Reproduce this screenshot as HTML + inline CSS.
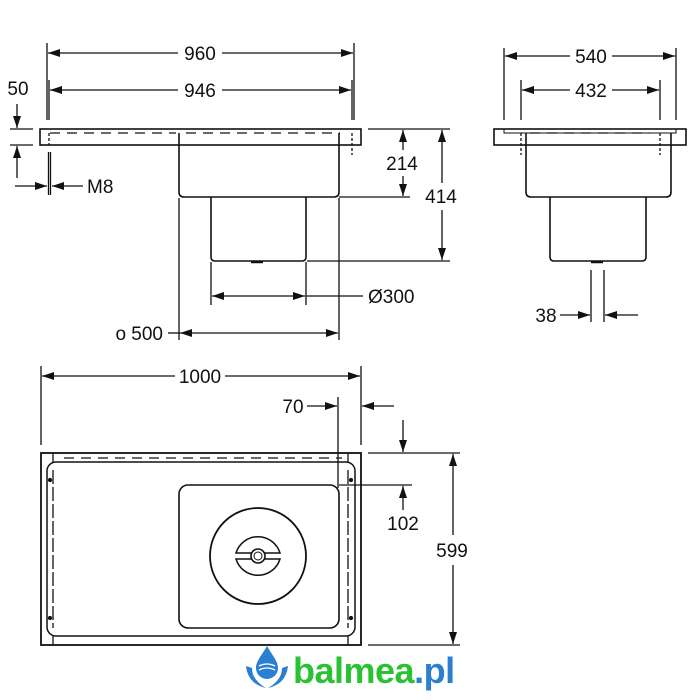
<!DOCTYPE html>
<html><head><meta charset="utf-8"><style>
html,body{margin:0;padding:0;background:#fff;}
svg{display:block;}
text{font-family:"Liberation Sans",Arial,sans-serif;font-size:19px;fill:#111;}
</style></head><body>
<svg width="700" height="700" viewBox="0 0 700 700" xmlns="http://www.w3.org/2000/svg">
<defs>
<marker id="a" viewBox="0 0 12 8" refX="12" refY="4" markerWidth="12" markerHeight="8" markerUnits="userSpaceOnUse" orient="auto-start-reverse"><path d="M0,0 L12,4 L0,8 z" fill="#111"/></marker>
</defs>
<g stroke="#111" stroke-width="1.3" fill="none">
<!-- ===== Front view ===== -->
<line x1="47" y1="43" x2="47" y2="120"/><line x1="354" y1="43" x2="354" y2="120"/>
<line x1="49" y1="80" x2="49" y2="120"/><line x1="352" y1="80" x2="352" y2="120"/>
<line x1="48" y1="53" x2="178" y2="53" marker-start="url(#a)"/><line x1="222" y1="53" x2="353" y2="53" marker-end="url(#a)"/>
<line x1="50" y1="90" x2="178" y2="90" marker-start="url(#a)"/><line x1="222" y1="90" x2="351" y2="90" marker-end="url(#a)"/>
<rect x="40" y="129" width="321" height="16" stroke-width="1.6"/>
<line x1="50" y1="133" x2="176" y2="133" stroke-dasharray="10,7"/>
<line x1="186" y1="133" x2="340" y2="133" stroke-dasharray="10,7"/>
<path d="M179,133 V192 Q179,197 184,197 H334 Q339,197 339,192 V133" stroke-width="1.6"/>
<path d="M211,197 V257 Q211,261 215,261 H302 Q306,261 306,257 V197" stroke-width="1.6"/>
<line x1="251" y1="262" x2="263" y2="262" stroke-width="2.5"/>
<line x1="49" y1="133" x2="49" y2="145" stroke-dasharray="3,2"/>
<line x1="352" y1="133" x2="352" y2="155" stroke-dasharray="3,2"/>
<line x1="48.5" y1="152" x2="48.5" y2="195"/><line x1="50.5" y1="152" x2="50.5" y2="195"/>
<!-- 50 -->
<line x1="10" y1="129" x2="33" y2="129"/><line x1="10" y1="145" x2="33" y2="145"/>
<line x1="17" y1="104" x2="17" y2="128" marker-end="url(#a)"/>
<line x1="17" y1="178" x2="17" y2="146" marker-end="url(#a)"/>
<!-- M8 -->
<line x1="15" y1="186" x2="47" y2="186" marker-end="url(#a)"/>
<line x1="83" y1="186" x2="52" y2="186" marker-end="url(#a)"/>
<!-- 214 / 414 -->
<line x1="368" y1="129" x2="450" y2="129"/>
<line x1="339" y1="197" x2="410" y2="197"/>
<line x1="307" y1="261" x2="450" y2="261"/>
<line x1="403" y1="130" x2="403" y2="150" marker-start="url(#a)"/><line x1="403" y1="176" x2="403" y2="196" marker-end="url(#a)"/>
<line x1="442" y1="130" x2="442" y2="183" marker-start="url(#a)"/><line x1="442" y1="210" x2="442" y2="260" marker-end="url(#a)"/>
<!-- Ø300 / 500 -->
<line x1="211" y1="262" x2="211" y2="305"/><line x1="306" y1="262" x2="306" y2="305"/>
<line x1="179" y1="198" x2="179" y2="340"/><line x1="339" y1="198" x2="339" y2="340"/>
<line x1="212" y1="296" x2="305" y2="296" marker-start="url(#a)" marker-end="url(#a)"/>
<line x1="306" y1="296" x2="363" y2="296"/>
<line x1="168" y1="333" x2="180" y2="333"/>
<line x1="180" y1="333" x2="338" y2="333" marker-start="url(#a)" marker-end="url(#a)"/>

<!-- ===== Side view ===== -->
<line x1="504" y1="48" x2="504" y2="120"/><line x1="676" y1="48" x2="676" y2="120"/>
<line x1="521" y1="80" x2="521" y2="120"/><line x1="660" y1="80" x2="660" y2="120"/>
<line x1="505" y1="56" x2="570" y2="56" marker-start="url(#a)"/><line x1="612" y1="56" x2="675" y2="56" marker-end="url(#a)"/>
<line x1="522" y1="90" x2="570" y2="90" marker-start="url(#a)"/><line x1="612" y1="90" x2="659" y2="90" marker-end="url(#a)"/>
<rect x="494" y="129" width="192" height="16" stroke-width="1.6"/>
<path d="M504,129 V133 H676 V129" stroke-width="1"/>
<line x1="530" y1="133" x2="650" y2="133" stroke-dasharray="10,7"/>
<path d="M526,133 V192 Q526,197 531,197 H666 Q671,197 671,192 V133" stroke-width="1.6"/>
<path d="M550,197 V257 Q550,261 554,261 H642 Q646,261 646,257 V197" stroke-width="1.6"/>
<line x1="591" y1="262" x2="603" y2="262" stroke-width="2.5"/>
<line x1="521" y1="133" x2="521" y2="155" stroke-dasharray="3,2"/>
<line x1="660" y1="133" x2="660" y2="155" stroke-dasharray="3,2"/>
<line x1="591" y1="270" x2="591" y2="322"/><line x1="604" y1="270" x2="604" y2="322"/>
<line x1="560" y1="315" x2="590" y2="315" marker-end="url(#a)"/>
<line x1="638" y1="315" x2="605" y2="315" marker-end="url(#a)"/>

<!-- ===== Top view ===== -->
<line x1="41" y1="366" x2="41" y2="445"/><line x1="361" y1="366" x2="361" y2="445"/>
<line x1="42" y1="376" x2="175" y2="376" marker-start="url(#a)"/><line x1="225" y1="376" x2="360" y2="376" marker-end="url(#a)"/>
<line x1="338" y1="397" x2="338" y2="488"/>
<line x1="307" y1="406" x2="337" y2="406" marker-end="url(#a)"/>
<line x1="394" y1="406" x2="362" y2="406" marker-end="url(#a)"/>
<rect x="41" y="453" width="320" height="192" stroke-width="1.8"/>
<rect x="47" y="462" width="308" height="174" rx="9" stroke-width="1.5"/>
<line x1="64" y1="458" x2="342" y2="458" stroke-dasharray="10,7"/>
<line x1="53" y1="453" x2="53" y2="462"/><line x1="348" y1="453" x2="348" y2="462"/>
<line x1="53" y1="636" x2="53" y2="645"/><line x1="348" y1="636" x2="348" y2="645"/>
<line x1="53" y1="470" x2="53" y2="628" stroke-dasharray="14,3"/>
<line x1="348" y1="470" x2="348" y2="628" stroke-dasharray="14,3"/>
<circle cx="50" cy="480" r="1.5" fill="#111"/><circle cx="351" cy="480" r="1.5" fill="#111"/>
<circle cx="50" cy="618" r="1.5" fill="#111"/><circle cx="351" cy="618" r="1.5" fill="#111"/>
<rect x="179" y="485" width="160" height="143" rx="9" stroke-width="1.6"/>
<circle cx="258" cy="556" r="48" stroke-width="1.8"/>
<path d="M236,553 A23,23 0 0 1 280,553 Z" stroke-width="1.5"/>
<path d="M236,559 A23,23 0 0 0 280,559 Z" stroke-width="1.5"/>
<circle cx="258" cy="556" r="7" fill="#fff" stroke-width="1.6"/>
<circle cx="258" cy="556" r="4" stroke-width="1"/>
<!-- 102 / 599 -->
<line x1="339" y1="485" x2="412" y2="485"/>
<line x1="403" y1="420" x2="403" y2="452" marker-end="url(#a)"/>
<line x1="403" y1="510" x2="403" y2="486" marker-end="url(#a)"/>
<line x1="368" y1="453" x2="460" y2="453"/><line x1="368" y1="645" x2="460" y2="645"/>
<line x1="453" y1="454" x2="453" y2="535" marker-start="url(#a)"/><line x1="453" y1="565" x2="453" y2="644" marker-end="url(#a)"/>
</g>
<g>
<text x="200" y="60" text-anchor="middle">960</text>
<text x="200" y="97" text-anchor="middle">946</text>
<text x="18" y="95" text-anchor="middle">50</text>
<text x="87" y="193">M8</text>
<text x="402" y="170" text-anchor="middle">214</text>
<text x="441" y="203" text-anchor="middle">414</text>
<text x="368" y="303">Ø300</text>
<text x="163" y="340" text-anchor="end">o 500</text>
<text x="591" y="63" text-anchor="middle">540</text>
<text x="591" y="97" text-anchor="middle">432</text>
<text x="546" y="322" text-anchor="middle">38</text>
<text x="200" y="383" text-anchor="middle">1000</text>
<text x="293" y="413" text-anchor="middle">70</text>
<text x="403" y="530" text-anchor="middle">102</text>
<text x="452" y="557" text-anchor="middle">599</text>
</g>
<!-- logo -->
<g>
<path d="M267,646 C262,655 256,661 256,668 A11,11 0 0 0 278,668 C278,661 272,655 267,646 Z" fill="#2a7fd0"/>
<path d="M259,666 Q267,662 275,666 M259,670 Q267,666 275,670" stroke="#fff" stroke-width="1.3" fill="none"/>
<path d="M246,666 Q248,684 266,688 Q252,680 252,668 Z" fill="#2a7fd0"/>
<path d="M288,666 Q286,684 268,688 Q282,680 282,668 Z" fill="#2a7fd0"/>
<text x="293" y="683" style="font-size:36px;font-weight:bold;fill:#2ac233;letter-spacing:-0.5px">balmea<tspan style="fill:#2a7fd0">.pl</tspan></text>
</g>
</svg>
</body></html>
